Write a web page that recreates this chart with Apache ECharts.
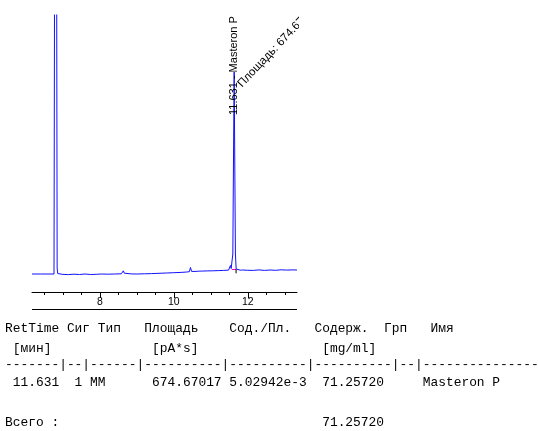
<!DOCTYPE html>
<html><head><meta charset="utf-8">
<script src="https://cdn.jsdelivr.net/npm/echarts@6/dist/echarts.min.js"></script>
<style>html,body{margin:0;padding:0;background:#fff}#c{width:538px;height:431px}</style>
</head><body><div id="c"></div>
<script>
// ---- data ----
const timeMin = [6.165, 6.4, 6.6, 6.76, 6.79, 6.805, 6.825, 6.845, 6.86, 6.88, 7.0, 7.15, 7.3, 7.45, 7.6, 7.75, 7.9, 8.05, 8.2, 8.4, 8.58, 8.61, 8.635, 8.66, 8.70, 8.85, 9.0, 9.2, 9.4, 9.6, 9.8, 10.0, 10.2, 10.35, 10.42, 10.45, 10.48, 10.52, 10.6, 10.63, 10.66, 10.75, 10.9, 11.05, 11.2, 11.35, 11.48, 11.51, 11.53, 11.55, 11.575, 11.595, 11.612, 11.631, 11.648, 11.665, 11.685, 11.72, 11.8, 11.86, 11.88, 11.91, 12.0, 12.15, 12.3, 12.45, 12.6, 12.75, 12.9, 13.05, 13.2, 13.33];
const signal  = [0, 0, 0, 0, 0.5, 900, 900, 6, 0.5, -0.5, -0.4, -0.6, -0.2, -0.5, 0, -0.5, -0.3, 0, -0.2, 0, 0.2, 1.5, 3.2, 0.8, 0, 0.1, 0, 0.2, 0.4, 0.7, 1, 1.3, 1.6, 2, 2.3, 6.5, 2.6, 2.4, 2.6, 4, 2.8, 2.9, 3.1, 3.2, 3.4, 3.6, 3.9, 5.5, 8.5, 5.5, 5, 20, 110, 202, 110, 20, 5, 4, 3.8, 4, 5, 3.9, 3.7, 3.6, 4.1, 3.6, 4, 3.7, 4.2, 3.9, 4.1, 4];
const bslTime  = [11.566, 11.683];
const bslValue = [4.5, 4.5];
const endTickTime  = [11.683, 11.683];
const endTickValue = [0.7, 4.7];
const minorTicks = [6.5, 7, 7.5, 8, 8.5, 9, 9.5, 10, 10.5, 11, 11.5, 12, 12.5, 13];
const majorTicks = [8, 10, 12];
const peakRT = 11.631;
const peakName = 'Masteron P';
const peakAreaText = 'Площадь: 674.67017';
const tableLines = [
  'RetTime Сиг Тип   Площадь    Сод./Пл.   Содерж.  Грп   Имя',
  ' [мин]             [pA*s]                [mg/ml]',
  '-------|--|------|----------|----------|----------|--|---------------',
  ' 11.631  1 MM      674.67017 5.02942e-3  71.25720     Masteron P',
  'Всего :                                  71.25720'
];
const tableLineY = [328.9, 348.3, 364.1, 382.3, 422.6];

// ---- chart ----
const chart = echarts.init(document.getElementById('c'), null, {renderer: 'canvas'});
const xCommon = {type: 'value', min: 6.165, max: 13.33, position: 'bottom', splitLine: {show: false}};
const option = {
  animation: false,
  backgroundColor: '#fff',
  grid: {left: 32, top: 15, width: 265, height: 277},
  xAxis: [
    Object.assign({}, xCommon, {
      axisLine: {show: true, onZero: false, lineStyle: {color: '#000', width: 1}},
      axisTick: {show: true, customValues: minorTicks, length: 3, lineStyle: {color: '#000', width: 1}},
      axisLabel: {show: false}
    }),
    Object.assign({}, xCommon, {
      axisLine: {show: false, onZero: false},
      axisTick: {show: true, customValues: majorTicks, length: 6, lineStyle: {color: '#000', width: 1}},
      axisLabel: {show: true, customValues: majorTicks, margin: 5, color: '#000', fontFamily: 'Liberation Sans', fontSize: 10.5}
    })
  ],
  yAxis: {type: 'value', min: -18, max: 259, show: false, splitLine: {show: false}},
  series: [
    {type: 'line', xAxisIndex: 0, data: timeMin.map((t, i) => [t, signal[i]]), symbol: 'none', clip: true,
     lineStyle: {color: '#1010ff', width: 1}, z: 2},
    {type: 'line', xAxisIndex: 0, data: bslTime.map((t, i) => [t, bslValue[i]]), symbol: 'none',
     lineStyle: {color: '#ff00cc', width: 1}, z: 3},
    {type: 'line', xAxisIndex: 0, data: endTickTime.map((t, i) => [t, endTickValue[i]]), symbol: 'none',
     lineStyle: {color: '#000', width: 1}, z: 3}
  ]
};
chart.setOption(option);

const apexVal = signal[timeMin.indexOf(peakRT)];
const p = chart.convertToPixel({seriesIndex: 0}, [peakRT, apexVal]);
const labelFont = '11px "Liberation Sans", Arial, sans-serif';
const graphic = [
  {type: 'line', id: 'rule', shape: {x1: 32, y1: 309.5, x2: 297, y2: 309.5}, style: {stroke: '#000', lineWidth: 1}},
  {type: 'text', id: 'rtlabel', x: p[0], y: p[1] + 43, rotation: Math.PI / 2, z: 10,
   style: {text: peakRT.toFixed(3) + ' - ' + peakName, font: labelFont, fill: '#000', align: 'left', verticalAlign: 'middle'}},
  {type: 'text', id: 'arealabel', x: p[0] + 5.5, y: p[1] + 13.5, rotation: 0.81, z: 10,
   style: {text: peakAreaText, font: '11.5px "Liberation Sans", Arial, sans-serif', fill: '#000', align: 'left', verticalAlign: 'middle'}},
  {type: 'rect', id: 'cover', shape: {x: 299, y: 0, width: 239, height: 130}, style: {fill: '#fff'}, z: 20}
];
tableLines.forEach((s, i) => {
  graphic.push({type: 'text', id: 'tl' + i, x: 5, y: tableLineY[i], z: 10,
    style: {text: s, font: '12.9px "Liberation Mono", monospace', fill: '#000', align: 'left', verticalAlign: 'middle'}});
});
chart.setOption({graphic: graphic});
</script>
</body></html>
